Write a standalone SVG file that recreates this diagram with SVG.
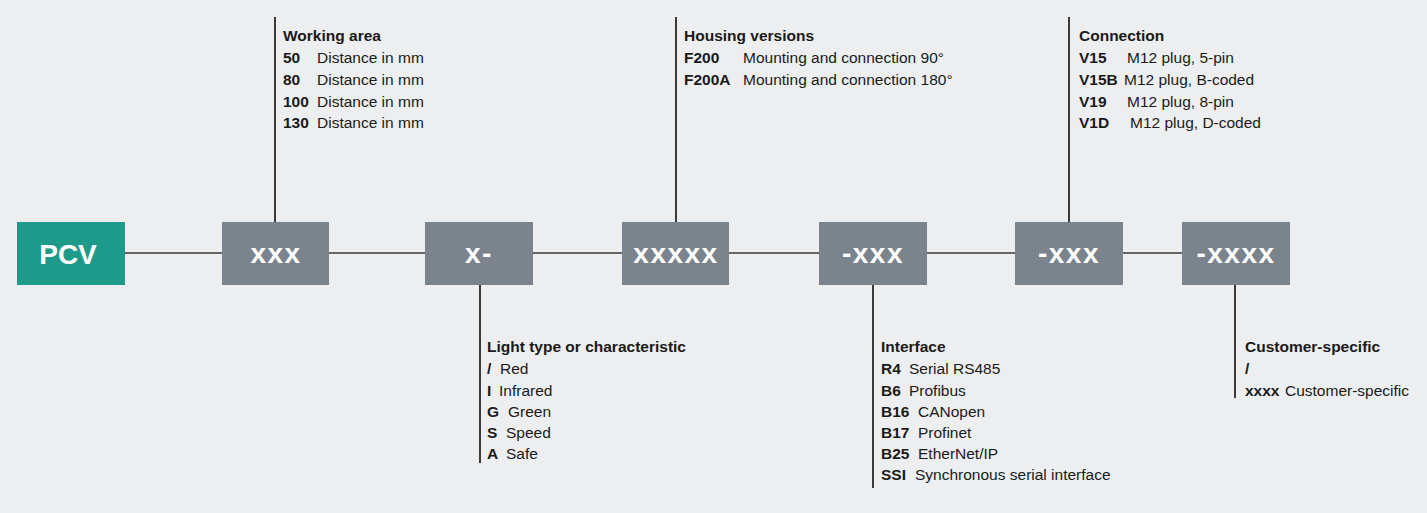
<svg xmlns="http://www.w3.org/2000/svg" width="1427" height="513" viewBox="0 0 1427 513">
<style>
.bg{fill:#eceef0}
.box{fill:#7b838d}
.pcv{fill:#1d9a8a}
.bt{font-family:"Liberation Sans",Arial,sans-serif;font-weight:bold;font-size:28px;fill:#ffffff;text-anchor:middle;letter-spacing:1.5px}
.t{font-family:"Liberation Sans",Arial,sans-serif;font-size:15.5px;fill:#1a1a1a}
.b{font-weight:bold}
.conn{stroke:#6a6462;stroke-width:2;fill:none}
.lead{stroke:#3a3a3a;stroke-width:2;fill:none}
</style>
<rect class="bg" x="0" y="0" width="1427" height="513"/>
<g id="connectors">
<line class="conn" x1="125" y1="253" x2="1182" y2="253"/>
<line class="lead" x1="275" y1="17" x2="275" y2="222"/>
<line class="lead" x1="676" y1="17" x2="676" y2="222"/>
<line class="lead" x1="1069" y1="17" x2="1069" y2="222"/>
<line class="lead" x1="480" y1="285" x2="480" y2="463"/>
<line class="lead" x1="873" y1="285" x2="873" y2="488"/>
<line class="lead" x1="1235" y1="285" x2="1235" y2="398"/>
</g>
<g id="node-pcv">
<rect class="pcv" x="17" y="222" width="108" height="63"/>
<text class="bt" x="68" y="264" style="letter-spacing:0">PCV</text>
</g>
<g id="node-xxx">
<rect class="box" x="222" y="222" width="107" height="63"/>
<text class="bt" x="276" y="263">xxx</text>
</g>
<g id="node-x">
<rect class="box" x="425" y="222" width="108" height="63"/>
<text class="bt" x="479" y="263">x-</text>
</g>
<g id="node-xxxxx">
<rect class="box" x="622" y="222" width="107" height="63"/>
<text class="bt" x="676" y="263">xxxxx</text>
</g>
<g id="node-interface">
<rect class="box" x="819" y="222" width="108" height="63"/>
<text class="bt" x="873" y="263">-xxx</text>
</g>
<g id="node-connection">
<rect class="box" x="1015" y="222" width="108" height="63"/>
<text class="bt" x="1069" y="263">-xxx</text>
</g>
<g id="node-customer">
<rect class="box" x="1182" y="222" width="108" height="63"/>
<text class="bt" x="1236" y="263">-xxxx</text>
</g>
<g id="label-working-area">
<text class="t b" x="283" y="41">Working area</text>
<text class="t b" x="283" y="63">50</text><text class="t" x="317" y="63">Distance in mm</text>
<text class="t b" x="283" y="85">80</text><text class="t" x="317" y="85">Distance in mm</text>
<text class="t b" x="283" y="107">100</text><text class="t" x="317" y="107">Distance in mm</text>
<text class="t b" x="283" y="128">130</text><text class="t" x="317" y="128">Distance in mm</text>
</g>
<g id="label-housing">
<text class="t b" x="684" y="41">Housing versions</text>
<text class="t b" x="684" y="63">F200</text><text class="t" x="743" y="63">Mounting and connection 90°</text>
<text class="t b" x="684" y="85">F200A</text><text class="t" x="743" y="85">Mounting and connection 180°</text>
</g>
<g id="label-connection">
<text class="t b" x="1079" y="41">Connection</text>
<text class="t b" x="1079" y="63">V15</text><text class="t" x="1127" y="63">M12 plug, 5-pin</text>
<text class="t b" x="1079" y="85">V15B</text><text class="t" x="1124" y="85">M12 plug, B-coded</text>
<text class="t b" x="1079" y="107">V19</text><text class="t" x="1127" y="107">M12 plug, 8-pin</text>
<text class="t b" x="1079" y="128">V1D</text><text class="t" x="1130" y="128">M12 plug, D-coded</text>
</g>
<g id="label-light">
<text class="t b" x="487" y="352">Light type or characteristic</text>
<text class="t b" x="487" y="374">/</text><text class="t" x="500" y="374">Red</text>
<text class="t b" x="487" y="396">I</text><text class="t" x="499" y="396">Infrared</text>
<text class="t b" x="487" y="417">G</text><text class="t" x="508" y="417">Green</text>
<text class="t b" x="487" y="438">S</text><text class="t" x="506" y="438">Speed</text>
<text class="t b" x="487" y="459">A</text><text class="t" x="506" y="459">Safe</text>
</g>
<g id="label-interface">
<text class="t b" x="881" y="352">Interface</text>
<text class="t b" x="881" y="374">R4</text><text class="t" x="909" y="374">Serial RS485</text>
<text class="t b" x="881" y="396">B6</text><text class="t" x="909" y="396">Profibus</text>
<text class="t b" x="881" y="417">B16</text><text class="t" x="918" y="417">CANopen</text>
<text class="t b" x="881" y="438">B17</text><text class="t" x="918" y="438">Profinet</text>
<text class="t b" x="881" y="459">B25</text><text class="t" x="918" y="459">EtherNet/IP</text>
<text class="t b" x="881" y="480">SSI</text><text class="t" x="915" y="480">Synchronous serial interface</text>
</g>
<g id="label-customer">
<text class="t b" x="1245" y="352">Customer-specific</text>
<text class="t b" x="1245" y="374">/</text>
<text class="t b" x="1245" y="396">xxxx</text><text class="t" x="1285" y="396">Customer-specific</text>
</g>
</svg>
